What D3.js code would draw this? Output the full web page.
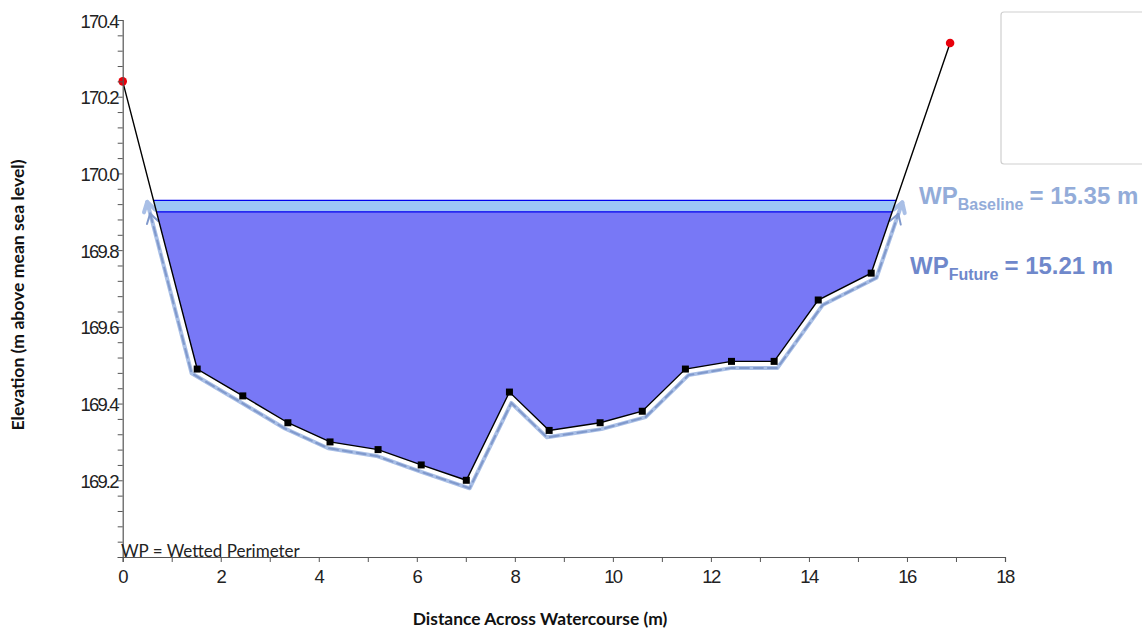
<!DOCTYPE html>
<html>
<head>
<meta charset="utf-8">
<script src="https://cdn.jsdelivr.net/npm/d3@7"></script>
<style>
  html, body { margin: 0; padding: 0; background: #fff; }
  svg { display: block; }
</style>
</head>
<body>
<svg id="chart" width="1142" height="628"></svg>
<script>
// Surveyed cross-section: distance across (m) and bed elevation (m AMSL)
const bedDistance = [1.52, 2.45, 3.37, 4.23, 5.21, 6.09, 7.01, 7.89, 8.70, 9.74, 10.60, 11.48, 12.42, 13.29, 14.19, 15.27];
const bedElevation = [169.49, 169.42, 169.35, 169.30, 169.28, 169.24, 169.20, 169.43, 169.33, 169.35, 169.38, 169.49, 169.51, 169.51, 169.67, 169.74];
// Bank-top survey points
const bankDistance = [0, 16.88];
const bankElevation = [170.24, 170.34];
// Water levels
const waterLevels = { baseline: 169.93, future: 169.90 };
const perimeterLabels = ["15.35 m", "15.21 m"];
// Axis ticks
const xTicks = [0, 2, 4, 6, 8, 10, 12, 14, 16, 18];
const yTicks = [169.2, 169.4, 169.6, 169.8, 170.0, 170.2, 170.4];

const svg = d3.select("#chart");
const x = d3.scaleLinear().domain([0, 18]).range([122.7, 1005]);
const y = d3.scaleLinear().domain([169.0, 170.4]).range([557, 20]);

// full profile, bank to bank
const profile = [[bankDistance[0], bankElevation[0]]]
  .concat(bedDistance.map((d, i) => [d, bedElevation[i]]))
  .concat([[bankDistance[1], bankElevation[1]]]);

// where a level crosses the left and right banks
function crossing(level) {
  let left = null, right = null;
  for (let i = 0; i < profile.length - 1; i++) {
    const [x0, y0] = profile[i], [x1, y1] = profile[i + 1];
    if ((y0 - level) * (y1 - level) <= 0 && y0 !== y1) {
      const t = (level - y0) / (y1 - y0);
      const xi = x0 + t * (x1 - x0);
      if (left === null) left = { x: xi, i: i }; else right = { x: xi, i: i };
    }
  }
  return { left, right };
}

function wetted(level) {
  const c = crossing(level);
  const pts = [[c.left.x, level]];
  for (let i = c.left.i + 1; i <= c.right.i; i++) pts.push(profile[i]);
  pts.push([c.right.x, level]);
  return pts;
}

// Baseline water band (light) and future water body
const basePts = wetted(waterLevels.baseline);
const futPts = wetted(waterLevels.future);
const area = d3.line().x(d => x(d[0])).y(d => y(d[1]));

svg.append("path").attr("d", area(basePts) + "Z").attr("fill", "#9cc5f6");
svg.append("path").attr("d", area(futPts) + "Z").attr("fill", "#7878f6");
[waterLevels.baseline, waterLevels.future].forEach(lv => {
  const p = wetted(lv);
  svg.append("line")
    .attr("x1", x(p[0][0])).attr("x2", x(p[p.length - 1][0]))
    .attr("y1", y(lv)).attr("y2", y(lv))
    .attr("stroke", "#0000ee").attr("stroke-width", 1.3);
});

// Offset a polyline in pixel space (outward, below the bed)
function offsetLine(pts, dist) {
  const P = pts.map(d => [x(d[0]), y(d[1])]);
  const out = [];
  for (let i = 0; i < P.length; i++) {
    const norms = [];
    if (i > 0) {
      const dx = P[i][0] - P[i - 1][0], dy = P[i][1] - P[i - 1][1], L = Math.hypot(dx, dy);
      norms.push([-dy / L, dx / L]);
    }
    if (i < P.length - 1) {
      const dx = P[i + 1][0] - P[i][0], dy = P[i + 1][1] - P[i][1], L = Math.hypot(dx, dy);
      norms.push([-dy / L, dx / L]);
    }
    let nx = 0, ny = 0;
    norms.forEach(n => { nx += n[0]; ny += n[1]; });
    const nl = Math.hypot(nx, ny);
    nx /= nl; ny /= nl;
    const cos = nx * norms[0][0] + ny * norms[0][1];
    const m = dist / Math.max(cos, 0.5);
    out.push([P[i][0] + nx * m, P[i][1] + ny * m]);
  }
  return out;
}

function drawPerimeter(level, dist, color, dash, width) {
  const off = offsetLine(wetted(level), dist);
  const g = svg.append("g").attr("fill", "none").attr("stroke", color)
    .attr("stroke-width", width).attr("stroke-linejoin", "round").attr("stroke-linecap", "round");
  g.append("path").attr("d", d3.line()(off)).attr("stroke-dasharray", dash);
  // arrowheads at both ends
  [[off[1], off[0]], [off[off.length - 2], off[off.length - 1]]].forEach(([a, b]) => {
    const ang = Math.atan2(b[1] - a[1], b[0] - a[0]);
    const L = 11, spread = 0.55;
    const p1 = [b[0] - L * Math.cos(ang - spread), b[1] - L * Math.sin(ang - spread)];
    const p2 = [b[0] - L * Math.cos(ang + spread), b[1] - L * Math.sin(ang + spread)];
    g.append("path").attr("d", d3.line()([p1, b, p2]));
  });
}
drawPerimeter(waterLevels.baseline, 6.5, "#a9bfe6", null, 4);
drawPerimeter(waterLevels.future, 6.5, "#8099cc", "9,5", 2);

// Bed profile line
svg.append("path").attr("d", area(profile)).attr("fill", "none")
  .attr("stroke", "#000").attr("stroke-width", 1.4);

// Bed survey markers
svg.append("g").selectAll("rect").data(bedDistance).join("rect")
  .attr("x", (d) => x(d) - 3.5).attr("y", (d, i) => y(bedElevation[i]) - 3.5)
  .attr("width", 7).attr("height", 7).attr("fill", "#000");
svg.append("g").selectAll("circle").data(bankDistance).join("circle")
  .attr("cx", d => x(d)).attr("cy", (d, i) => y(bankElevation[i]))
  .attr("r", 4.3).attr("fill", "#e8000b");

// Axes
const tickFont = "'Liberation Sans', Arial, sans-serif";
const xMinor = d3.range(0, 18.01, 1);
const yMinor = d3.range(169.0, 170.401, 0.04);

const xAxis = svg.append("g").attr("transform", `translate(0,${y(169.0)})`);
xAxis.call(d3.axisBottom(x).tickValues(xMinor).tickSize(5).tickFormat(""));
xAxis.selectAll(".tick text").remove();
xAxis.select(".domain").attr("stroke", "#555").attr("stroke-width", 1.2);
xAxis.selectAll(".tick line").attr("stroke", "#555");
xAxis.selectAll(".xlab").data(xTicks).join("text")
  .attr("x", d => x(d)).attr("y", 25.5).attr("text-anchor", "middle")
  .attr("font-family", tickFont).attr("font-size", 18.5).attr("letter-spacing", "-1.6")
  .attr("fill", "#222").text(d => d);

const yAxis = svg.append("g").attr("transform", `translate(${x(0)},0)`);
yAxis.call(d3.axisLeft(y).tickValues(yMinor).tickSize(5).tickFormat(""));
yAxis.select(".domain").attr("stroke", "#555").attr("stroke-width", 1.2);
yAxis.selectAll(".tick line").attr("stroke", "#555");
yAxis.selectAll(".ylab").data(yTicks).join("text")
  .attr("x", -5).attr("y", d => y(d) + 7.5).attr("text-anchor", "end")
  .attr("font-family", tickFont).attr("font-size", 18.5).attr("letter-spacing", "-1.8")
  .attr("fill", "#222").text(d => d.toFixed(1));

// Axis titles
const titleFont = "Lato, 'Open Sans', sans-serif";
svg.append("text").attr("x", 540).attr("y", 625).attr("text-anchor", "middle")
  .attr("font-family", titleFont).attr("font-weight", "bold").attr("font-size", 17.4)
  .attr("fill", "#111").text("Distance Across Watercourse (m)");
svg.append("text").attr("transform", "translate(24,295) rotate(-90)").attr("text-anchor", "middle")
  .attr("font-family", titleFont).attr("font-weight", "bold").attr("font-size", 17.6)
  .attr("fill", "#111").text("Elevation (m above mean sea level)");

// Note
svg.append("text").attr("x", 121).attr("y", 557)
  .attr("font-family", titleFont).attr("font-size", 17).attr("fill", "#222")
  .text("WP = Wetted Perimeter");

// Empty legend frame
svg.append("rect").attr("x", 1001).attr("y", 12).attr("width", 160).attr("height", 152)
  .attr("rx", 3).attr("fill", "#fff").attr("stroke", "#cfcfcf").attr("stroke-width", 1.2);

// Wetted perimeter annotations
function wpLabel(px, py, sub, value, color) {
  const t = svg.append("text").attr("x", px).attr("y", py)
    .attr("font-family", "'Liberation Sans', Arial, sans-serif").attr("font-weight", "bold")
    .attr("fill", color);
  t.append("tspan").attr("font-size", 24).text("WP");
  t.append("tspan").attr("font-size", 16).attr("dy", 6).text(sub);
  t.append("tspan").attr("font-size", 24).attr("dy", -6).attr("dx", 6).text("= " + value);
}
wpLabel(919, 204, "Baseline", perimeterLabels[0], "#93acd9");
wpLabel(910, 274, "Future", perimeterLabels[1], "#6f88cb");
</script>
</body>
</html>
